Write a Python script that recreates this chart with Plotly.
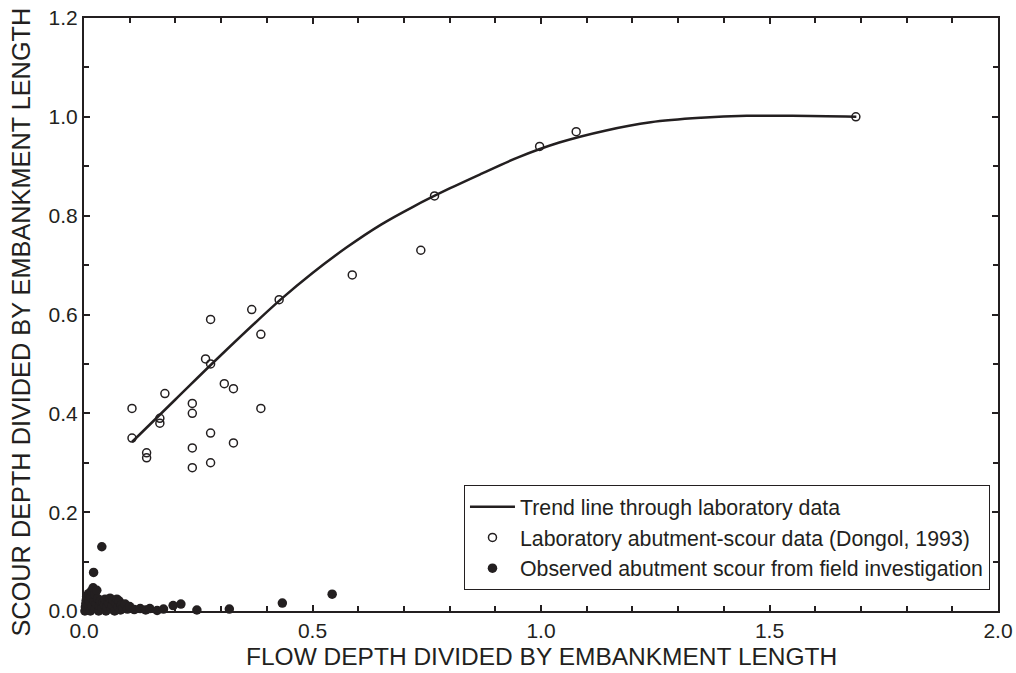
import plotly.graph_objects as go

# Trend line through laboratory data
trend_x = [0.105, 0.2, 0.3, 0.43, 0.5, 0.575, 0.65, 0.72, 0.8, 0.87, 0.95, 1.04,
           1.14, 1.24, 1.35, 1.45, 1.55, 1.69]
trend_y = [0.342, 0.428, 0.518, 0.630, 0.684, 0.736, 0.782, 0.818, 0.855, 0.885, 0.918, 0.948,
           0.972, 0.989, 0.998, 1.002, 1.002, 1.0]

# Laboratory abutment-scour data (Dongol, 1993)
lab_x = [0.105, 0.105, 0.137, 0.137, 0.166, 0.166, 0.177, 0.237, 0.237, 0.237, 0.237,
         0.266, 0.277, 0.277, 0.277, 0.277, 0.307, 0.327, 0.327, 0.367, 0.387, 0.387,
         0.427, 0.587, 0.737, 0.767, 0.997, 1.077, 1.689]
lab_y = [0.41, 0.35, 0.32, 0.31, 0.39, 0.38, 0.44, 0.42, 0.40, 0.33, 0.29,
         0.51, 0.50, 0.59, 0.36, 0.30, 0.46, 0.45, 0.34, 0.61, 0.56, 0.41,
         0.63, 0.68, 0.73, 0.84, 0.94, 0.97, 1.00]

# Observed abutment scour from field investigation
field_x = [0.002, 0.003, 0.004, 0.005, 0.006, 0.008, 0.010, 0.010, 0.012, 0.014,
           0.015, 0.016, 0.018, 0.020, 0.021, 0.022, 0.024, 0.025, 0.027, 0.028,
           0.030, 0.032, 0.034, 0.036, 0.039, 0.040, 0.042, 0.045, 0.046, 0.048,
           0.050, 0.052, 0.055, 0.057, 0.060, 0.062, 0.064, 0.067, 0.070, 0.072,
           0.075, 0.077, 0.080, 0.082, 0.085, 0.090, 0.095, 0.100, 0.110, 0.123,
           0.135, 0.144, 0.160, 0.174, 0.195, 0.212, 0.247, 0.318, 0.434, 0.543]
field_y = [0.000, 0.008, 0.015, 0.022, 0.030, 0.004, 0.012, 0.035, 0.020, 0.000,
           0.028, 0.040, 0.010, 0.047, 0.078, 0.020, 0.033, 0.005, 0.015, 0.042,
           0.025, 0.000, 0.010, 0.020, 0.130, 0.006, 0.018, 0.012, 0.024, 0.000,
           0.008, 0.020, 0.015, 0.026, 0.004, 0.012, 0.022, 0.000, 0.016, 0.024,
           0.008, 0.020, 0.002, 0.012, 0.006, 0.014, 0.004, 0.009, 0.003, 0.005,
           0.002, 0.005, 0.001, 0.004, 0.011, 0.014, 0.002, 0.004, 0.016, 0.034]

x_ticks = [0.0, 0.5, 1.0, 1.5, 2.0]
y_ticks = [0.0, 0.2, 0.4, 0.6, 0.8, 1.0, 1.2]
x_title = "FLOW DEPTH DIVIDED BY EMBANKMENT LENGTH"
y_title = "SCOUR DEPTH DIVIDED BY EMBANKMENT LENGTH"

FONT = "Arial, Liberation Sans, sans-serif"
INK = "#231f20"

fig = go.Figure()
fig.add_trace(go.Scatter(
    x=trend_x, y=trend_y, mode="lines", line=dict(color=INK, width=2.5, shape="spline"),
    name="Trend line through laboratory data", legendgroup="a"))
fig.add_trace(go.Scatter(
    x=lab_x, y=lab_y, mode="markers",
    marker=dict(symbol="circle-open", size=8, color=INK, line=dict(width=1.5, color=INK)),
    name="Laboratory abutment-scour data (Dongol, 1993)", legendgroup="b"))
fig.add_trace(go.Scatter(
    x=field_x, y=field_y, mode="markers", cliponaxis=False,
    marker=dict(symbol="circle", size=9.5, color=INK),
    name="Observed abutment scour from field investigation", legendgroup="c"))

axis_common = dict(
    showline=True, linecolor=INK, linewidth=2, mirror="ticks",
    ticks="inside", ticklen=6, tickwidth=1.5, tickcolor=INK,
    showgrid=False, zeroline=False, automargin=False,
    ticklabeloverflow="allow",
    tickfont=dict(family=FONT, size=21, color=INK),
    tickformat=".1f",
)
fig.update_xaxes(
    **axis_common, range=[0, 2.0], tickvals=x_ticks,
    minor=dict(dtick=0.1, ticks="inside", ticklen=5, tickwidth=1.5, tickcolor=INK, showgrid=False),
)
fig.update_yaxes(
    **axis_common, range=[0, 1.2], tickvals=y_ticks,
    minor=dict(dtick=0.1, ticks="inside", ticklen=5, tickwidth=1.5, tickcolor=INK, showgrid=False),
)

fig.add_annotation(
    text=x_title, xref="paper", yref="paper", x=0.5, y=0, yshift=-45,
    xanchor="center", yanchor="middle", showarrow=False, borderpad=0,
    font=dict(family=FONT, size=24.5, color=INK))
fig.add_annotation(
    text=y_title, xref="paper", yref="paper", x=0, y=0.5, xshift=-64, yshift=-8,
    xanchor="center", yanchor="middle", textangle=-90, showarrow=False,
    font=dict(family=FONT, size=25.3, color=INK))

fig.update_layout(
    width=1016, height=673,
    margin=dict(l=84, r=18, t=18, b=62),
    paper_bgcolor="white", plot_bgcolor="white",
    showlegend=True,
    legend=dict(
        x=0.991, y=0.035, xanchor="right", yanchor="bottom",
        bgcolor="white", bordercolor=INK, borderwidth=1.2,
        font=dict(family=FONT, size=21.3, color=INK),
        tracegroupgap=0, itemwidth=45,
    ),
)

# remove the page's default 8px body margin so the figure sits at (0, 0)
fig.write_html("out.html", config={"displayModeBar": False},
               post_script="document.body.style.margin='0px';")
